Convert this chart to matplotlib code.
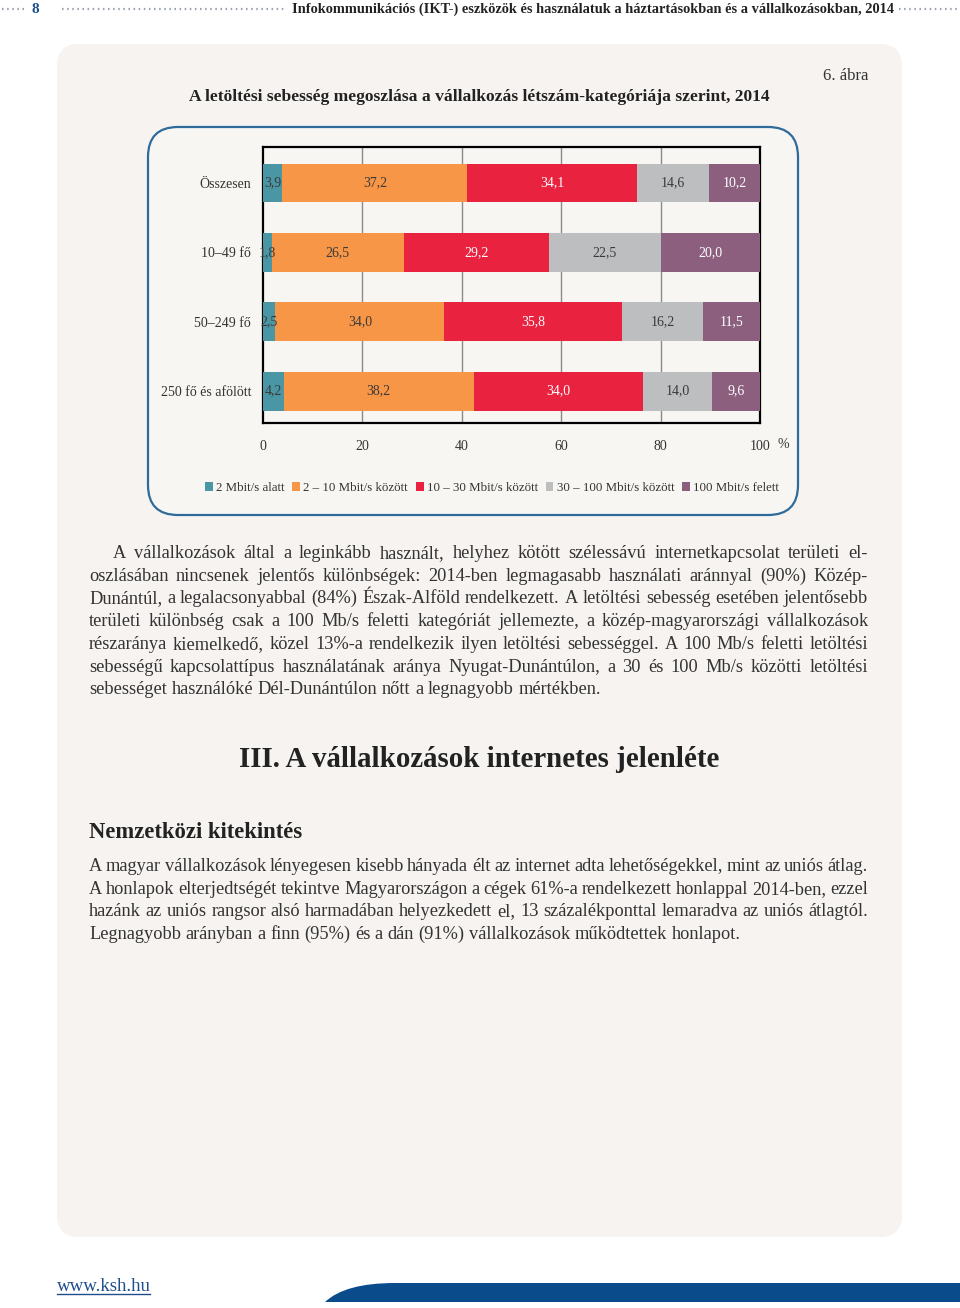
import matplotlib
matplotlib.use("Agg")
import matplotlib.pyplot as plt
from matplotlib.patches import FancyBboxPatch, Patch, PathPatch
from matplotlib.path import Path
import numpy as np

plt.rcParams['font.family'] = ['Liberation Serif', 'DejaVu Serif']

W, H = 960, 1308

# ==========================
# Data
# ==========================
categories = ["Összesen", "10–49 fő", "50–249 fő", "250 fő és afölött"]
series_names = ["2 Mbit/s alatt", "2 – 10 Mbit/s között", "10 – 30 Mbit/s között",
                "30 – 100 Mbit/s között", "100 Mbit/s felett"]
below_2 = [3.9, 1.8, 2.5, 4.2]
mbit_2_10 = [37.2, 26.5, 34.0, 38.2]
mbit_10_30 = [34.1, 29.2, 35.8, 34.0]
mbit_30_100 = [14.6, 22.5, 16.2, 14.0]
above_100 = [10.2, 20.0, 11.5, 9.6]
x_ticks = [0, 20, 40, 60, 80, 100]

colors = ["#4b96a5", "#f79646", "#e8223f", "#bcbec0", "#8c5f7f"]
label_colors = ["#3a3a3a", "#3a3a3a", "white", "#3a3a3a", "white"]

header = "Infokommunikációs (IKT-) eszközök és használatuk a háztartásokban és a vállalkozásokban, 2014"
chart_title = "A letöltési sebesség megoszlása a vállalkozás létszám-kategóriája szerint, 2014"

para1 = [
    "A vállalkozások által a leginkább használt, helyhez kötött szélessávú internetkapcsolat területi el-",
    "oszlásában nincsenek jelentős különbségek: 2014-ben legmagasabb használati aránnyal (90%) Közép-",
    "Dunántúl, a legalacsonyabbal (84%) Észak-Alföld rendelkezett. A letöltési sebesség esetében jelentősebb",
    "területi különbség csak a 100 Mb/s feletti kategóriát jellemezte, a közép-magyarországi vállalkozások",
    "részaránya kiemelkedő, közel 13%-a rendelkezik ilyen letöltési sebességgel. A 100 Mb/s feletti letöltési",
    "sebességű kapcsolattípus használatának aránya Nyugat-Dunántúlon, a 30 és 100 Mb/s közötti letöltési",
    "sebességet használóké Dél-Dunántúlon nőtt a legnagyobb mértékben.",
]
section_title = "III. A vállalkozások internetes jelenléte"
sub_title = "Nemzetközi kitekintés"
para2 = [
    "A magyar vállalkozások lényegesen kisebb hányada élt az internet adta lehetőségekkel, mint az uniós átlag.",
    "A honlapok elterjedtségét tekintve Magyarországon a cégek 61%-a rendelkezett honlappal 2014-ben, ezzel",
    "hazánk az uniós rangsor alsó harmadában helyezkedett el, 13 százalékponttal lemaradva az uniós átlagtól.",
    "Legnagyobb arányban a finn (95%) és a dán (91%) vállalkozások működtettek honlapot.",
]

# ==========================
# Page (pixel coordinates)
# ==========================
fig = plt.figure(figsize=(W / 100, H / 100), dpi=100)
fig.patch.set_facecolor("white")
bg = fig.add_axes([0, 0, 1, 1])
bg.set_xlim(0, W)
bg.set_ylim(H, 0)
bg.axis("off")
bg.set_zorder(0)

panel_color = "#f6f3f0"
bg.add_patch(FancyBboxPatch((57, 44), 845, 1193, boxstyle="round,pad=0,rounding_size=22",
                            fc=panel_color, ec="none"))
bg.add_patch(FancyBboxPatch((148, 127), 650, 388, boxstyle="round,pad=0,rounding_size=30",
                            fc="#f8f6f3", ec="#2f6b9a", lw=1.6))

# header
dot_kw = dict(color="#9aa3ad", lw=1.6, linestyle=(0, (0.7, 1.6)))
bg.plot([2, 24], [9, 9], **dot_kw)
bg.plot([62, 286], [9, 9], **dot_kw)
bg.plot([899, 960], [9, 9], **dot_kw)
bg.text(31, 13, "8", color="#1f4e8c", fontsize=11, fontweight="bold", va="baseline")
bg.text(593, 13, header, color="#222222", fontsize=10.4, fontweight="bold", ha="center",
        va="baseline")

# chart titles
bg.text(868, 80, "6. ábra", fontsize=12, ha="right", va="baseline", color="#333333")
bg.text(479, 101, chart_title, fontsize=12.6, fontweight="bold", ha="center", va="baseline",
        color="#222222")

renderer = fig.canvas.get_renderer()


def put_line(text, x0, x1, y, size, justify=True, color="#333333"):
    words = text.split(" ")
    objs = [bg.text(0, y, w, fontsize=size, va="baseline", color=color) for w in words]
    widths = [o.get_window_extent(renderer).width for o in objs]
    if justify and len(words) > 1:
        gap = (x1 - x0 - sum(widths)) / (len(words) - 1)
    else:
        gap = size * 0.25 * 100 / 72
    x = x0
    for o, w in zip(objs, widths):
        o.set_x(x)
        x += w + gap


body_size = 13.2
line_h = 22.7
for i, line in enumerate(para1):
    x0 = 113 if i == 0 else 89
    put_line(line, x0, 868, 558 + i * line_h, body_size, justify=(i < len(para1) - 1))

bg.text(479, 767, section_title, fontsize=20.8, fontweight="bold", ha="center", va="baseline",
        color="#222222")
bg.text(89, 838, sub_title, fontsize=16.3, fontweight="bold", ha="left", va="baseline",
        color="#222222")
for i, line in enumerate(para2):
    put_line(line, 89, 868, 871 + i * line_h, body_size, justify=(i < len(para2) - 1))

# footer
bg.text(57, 1291, "www.ksh.hu", fontsize=13.6, color="#1f4e8c", va="baseline")
bg.plot([57, 150], [1294, 1294], color="#1f4e8c", lw=1)
verts = [(325, 1302), (345, 1283), (395, 1283), (960, 1283), (960, 1302), (325, 1302)]
codes = [Path.MOVETO, Path.CURVE3, Path.CURVE3, Path.LINETO, Path.LINETO, Path.CLOSEPOLY]
bg.add_patch(PathPatch(Path(verts, codes), fc="#0a4b8c", ec="none"))

# ==========================
# Chart
# ==========================
ax = fig.add_axes([263 / W, 1 - 423 / H, (760 - 263) / W, (423 - 147) / H])
ax.set_zorder(1)
ax.set_facecolor("none")

series = [below_2, mbit_2_10, mbit_10_30, mbit_30_100, above_100]
ypos = np.arange(len(categories))
left = np.zeros(len(categories))
for vals, col, lcol, name in zip(series, colors, label_colors, series_names):
    vals = np.array(vals)
    ax.barh(ypos, vals, left=left, height=0.56, color=col, zorder=3, label=name)
    for y, l, v in zip(ypos, left, vals):
        ax.text(l + v / 2, y, f"{v:.1f}".replace(".", ","), ha="center", va="center",
                fontsize=10, color=lcol, zorder=4)
    left += vals

ax.set_xlim(0, 100)
ax.set_ylim(3.46, -0.52)
ax.set_xticks(x_ticks)
ax.set_xticklabels([str(t) for t in x_ticks], fontsize=10, color="#333333")
ax.set_yticks(ypos)
ax.set_yticklabels(categories, fontsize=10, color="#333333")
ax.tick_params(length=0, axis="x", pad=12)
ax.tick_params(length=0, axis="y", pad=8.5)
for t in [20, 40, 60, 80]:
    ax.axvline(t, color="#8a8a8a", lw=1, zorder=1)
for s in ax.spines.values():
    s.set_color("black")
    s.set_linewidth(1.6)
bg.text(783, 448, "%", fontsize=10, ha="center", va="baseline", color="#333333")

handles = [Patch(facecolor=c, edgecolor="none", label=n) for c, n in zip(colors, series_names)]
fig.legend(handles=handles, loc="center", bbox_to_anchor=(492 / W, 1 - 488 / H), ncol=5,
           frameon=False, fontsize=9.3, handlelength=0.6, handleheight=0.6,
           handletextpad=0.25, columnspacing=0.6, borderpad=0, labelcolor="#333333")

fig.savefig("out.png", dpi=100, facecolor="white")
